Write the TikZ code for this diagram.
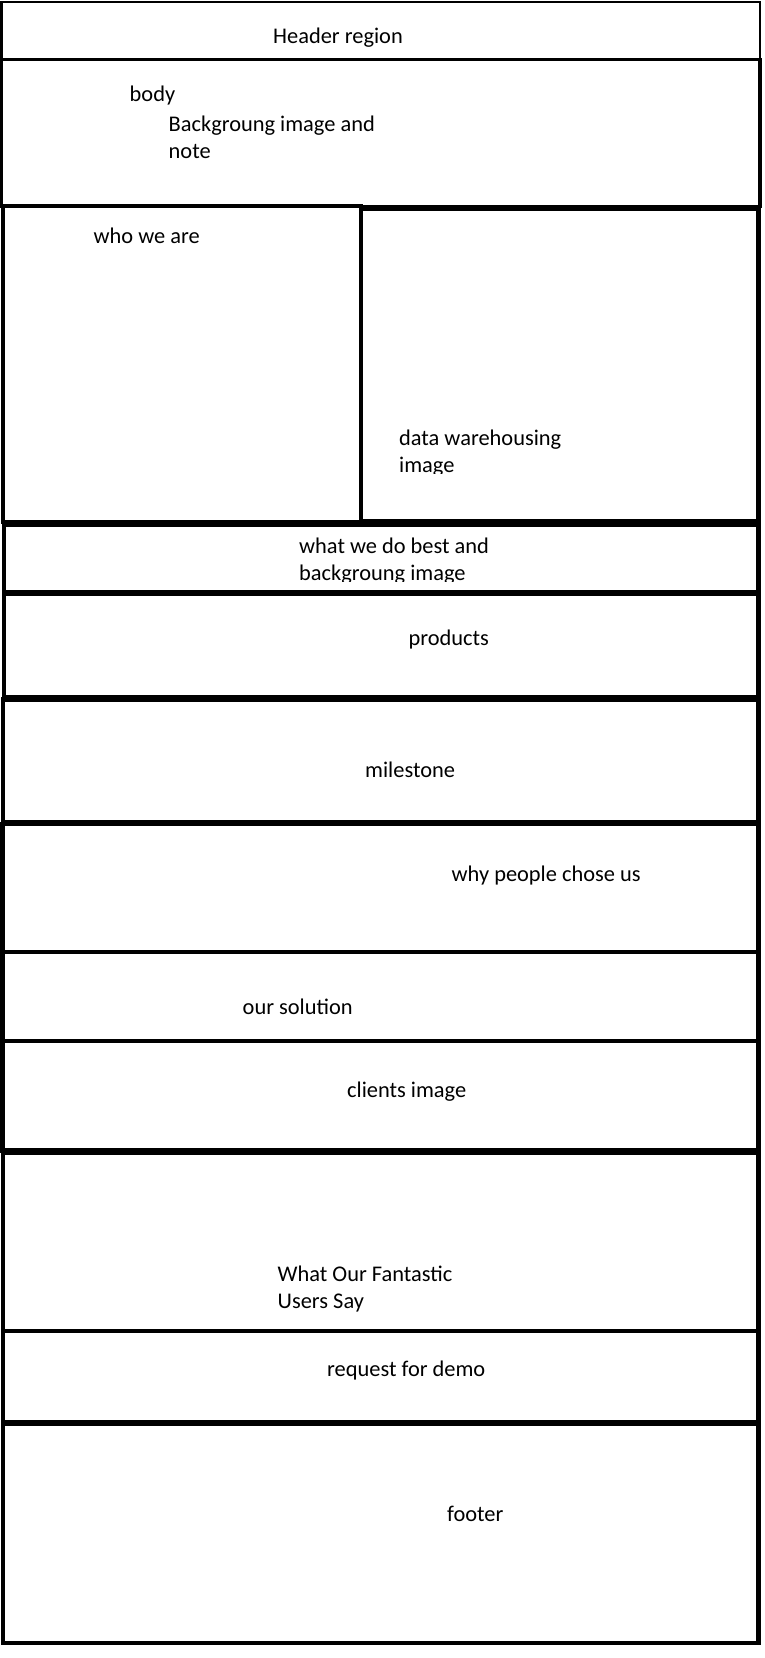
\documentclass[tikz,border=0pt]{standalone}
\usepackage{fontspec}
\setmainfont{Carlito}
\begin{document}
\begin{tikzpicture}[x=1pt,y=-1pt,
  thinsect/.style={draw=black, line width=2.4pt},
  midsect/.style={draw=black, line width=3.4pt},
  sect/.style={draw=black, line width=4.4pt},
  lbl/.style={anchor=base west, inner sep=0pt, font=\fontsize{22.4}{27}\selectfont}]
\fill[white] (0,0) rectangle (764,1658);
\useasboundingbox (0,0) rectangle (764,1658);
% sections
\draw[thinsect] (1.5,2) rectangle (760,59.5);
\draw[midsect] (1.5,59.5) rectangle (760,206.5);
\draw[sect] (3,206) rectangle (361,522);
\draw[sect] (361,208.5) rectangle (758.5,521.5);
\draw[sect] (4,524.5) rectangle (758.5,592);
\draw[sect] (4,594) rectangle (758.5,697);
\draw[sect] (3,699.5) rectangle (758.5,822.5);
\draw[sect] (2.5,824) rectangle (758.5,952);
\draw[sect] (2.5,952) rectangle (758.5,1041);
\draw[sect] (2.5,1041) rectangle (758.5,1150.5);
\draw[sect] (3,1152.5) rectangle (758.5,1331);
\draw[sect] (3,1331) rectangle (758.5,1422.5);
\draw[sect] (3,1423.5) rectangle (758.5,1643);
% labels
\node[lbl] (header) at (273,43) {Header region};
\node[lbl] (body) at (129.5,101.5) {body};
\node[lbl] (bg1) at (168.5,131.5) {Backgroung image and};
\node[lbl] (bg2) at (168.5,158) {note};
\node[lbl] (who) at (93.5,243) {who we are};
\node[lbl] (dw1) at (399,445) {data warehousing};
\begin{scope}
\clip (365,450) rectangle (700,473);
\node[lbl] (dw2) at (399,472) {image};
\end{scope}
\node[lbl] (wwd1) at (299,553.5) {what we do best and};
\begin{scope}
\clip (250,558) rectangle (700,581);
\node[lbl] (wwd2) at (299,580.5) {backgroung image};
\end{scope}
\node[lbl] (prod) at (408.5,645) {products};
\node[lbl] (mile) at (365,777) {milestone};
\node[lbl] (why) at (451.5,881.5) {why people chose us};
\node[lbl] (sol) at (242.5,1014) {our solution};
\node[lbl] (cli) at (347,1097.5) {clients image};
\node[lbl] (users1) at (277.5,1281.5) {What Our Fantastic};
\node[lbl] (users2) at (277.5,1308.5) {Users Say};
\node[lbl] (demo) at (327,1376.5) {request for demo};
\node[lbl] (foot) at (447,1521.5) {footer};
\end{tikzpicture}
\end{document}
